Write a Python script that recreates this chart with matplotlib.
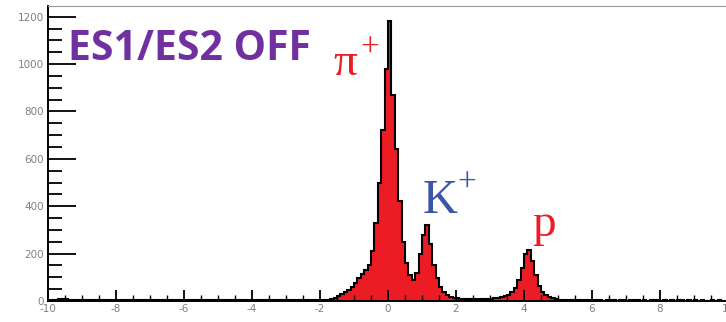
import numpy as np
import matplotlib
matplotlib.use("Agg")
import matplotlib.pyplot as plt
from matplotlib.ticker import MultipleLocator

plt.rcParams["axes.unicode_minus"] = False

# Histogram: 200 bins of width 0.1 from -10 to 10
bin_edges_range = (-10.0, 10.0)
n_bins = 200

counts_bg_left = [  # -10.0 .. -1.8 (82 bins)
    3, 5, 6, 8, 10, 8, 6, 5, 4, 4,
    5, 3, 4, 6, 5, 4, 3, 5, 4, 3,
    4, 5, 6, 4, 3, 4, 5, 3, 4, 4,
    5, 6, 4, 3, 4, 3, 5, 4, 3, 4,
    6, 5, 4, 3, 4, 5, 4, 3, 5, 6,
    4, 3, 4, 5, 4, 3, 4, 3, 5, 4,
    3, 4, 5, 4, 3, 4, 3, 4, 5, 4,
    3, 4, 3, 5, 4, 3, 4, 3, 4, 3,
    4, 3,
]
counts_pi_k = [  # -1.8 .. 2.0 (38 bins)
    3, 8, 14, 22, 30, 38, 46, 58, 75, 95,
    112, 130, 150, 210, 330, 500, 720, 980, 1180, 870,
    640, 420, 250, 160, 110, 90, 120, 200, 280, 320,
    240, 150, 95, 60, 38, 26, 18, 14,
]
counts_mid = [  # 2.0 .. 3.5 (15 bins)
    12, 10, 9, 8, 8, 7, 7, 8, 8, 9,
    10, 11, 13, 16, 20,
]
counts_p = [  # 3.5 .. 5.0 (15 bins)
    26, 36, 55, 90, 140, 200, 215, 170, 110, 65,
    40, 25, 16, 11, 8,
]
counts_bg_right = [  # 5.0 .. 10.0 (50 bins)
    6, 5, 5, 4, 4, 3, 4, 3, 4, 3,
    3, 4, 3, 2, 3, 4, 3, 2, 3, 3,
    2, 3, 4, 3, 2, 3, 2, 3, 4, 3,
    2, 3, 2, 3, 2, 3, 3, 2, 3, 2,
    3, 2, 3, 2, 2, 3, 2, 3, 2, 2,
]
counts = counts_bg_left + counts_pi_k + counts_mid + counts_p + counts_bg_right

x_ticks = [-10, -8, -6, -4, -2, 0, 2, 4, 6, 8, 10]
y_ticks = [0, 200, 400, 600, 800, 1000, 1200]

title_text = "ES1/ES2 OFF"
particle_names = ["π", "K", "p"]
particle_charges = ["+", "+", ""]

edges = np.linspace(bin_edges_range[0], bin_edges_range[1], n_bins + 1)
counts = np.array(counts, dtype=float)

fig = plt.figure(figsize=(7.26, 3.22), dpi=100)
ax = fig.add_axes([48 / 726, 21 / 322, 680 / 726, 295 / 322])

ax.stairs(counts, edges, fill=True, color="#EC1C24", linewidth=0)
ax.stairs(counts, edges, fill=False, color="black", linewidth=1.5)

ax.set_xlim(-10, 10)
ax.set_ylim(0, 1245)
ax.set_xticks(x_ticks)
ax.set_yticks(y_ticks)
ax.xaxis.set_minor_locator(MultipleLocator(0.5))
ax.yaxis.set_minor_locator(MultipleLocator(50))
ax.tick_params(axis="both", which="major", direction="in", colors="black",
               labelcolor="#808080", labelsize=7.5, width=1.3)
ax.tick_params(axis="y", which="major", length=20, pad=3)
ax.tick_params(axis="x", which="major", length=8, pad=2)
ax.tick_params(axis="y", which="minor", direction="in", length=10, width=1.3)
ax.tick_params(axis="x", which="minor", direction="in", length=4, width=1.0)
ax.tick_params(top=False, right=False, which="both")

ax.spines["left"].set_linewidth(1.4)
ax.spines["bottom"].set_linewidth(1.4)
ax.spines["top"].set_color("#999999")
ax.spines["right"].set_visible(False)

ax.text(0.0294, 0.817, title_text, transform=ax.transAxes, fontsize=29.5,
        fontweight="bold", color="#7030A0", family="Open Sans", va="baseline")

serif = ["Liberation Serif", "DejaVu Serif"]
red = "#EC1C24"
blue = "#3A55A8"
# pi+
ax.text(-1.62, 954, particle_names[0], fontsize=34, color=red,
        ha="left", va="baseline", family=serif)
ax.text(-0.82, 1066, particle_charges[0], fontsize=24, color=red,
        ha="left", va="center", family=serif)
# K+
ax.text(1.03, 371, particle_names[1], fontsize=35, color=blue,
        ha="left", va="baseline", family=serif)
ax.text(2.03, 496, particle_charges[1], fontsize=24, color=blue,
        ha="left", va="center", family=serif)
# p
ax.text(4.24, 274, particle_names[2], fontsize=34, color=red,
        ha="left", va="baseline", family=serif)

fig.savefig("out.png", dpi=100)
